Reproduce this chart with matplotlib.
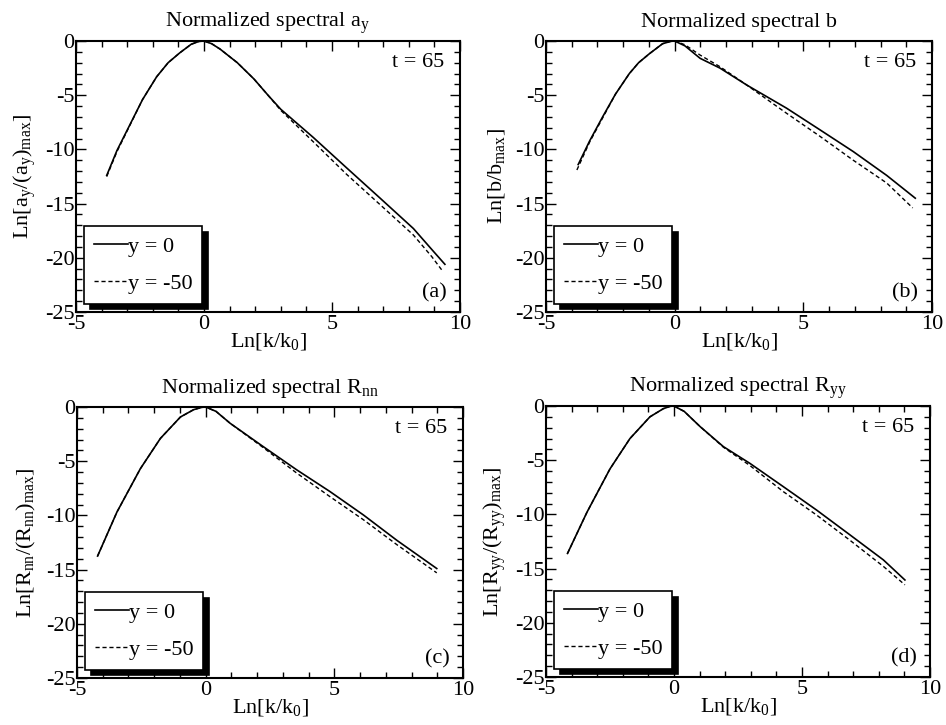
import matplotlib
matplotlib.use("Agg")
import matplotlib.pyplot as plt
from matplotlib.ticker import MultipleLocator

plt.rcParams['font.family'] = ['Liberation Serif', 'DejaVu Serif']
plt.rcParams['mathtext.fontset'] = 'stix'
plt.rcParams['axes.unicode_minus'] = False

# (a) a_y
ka_0 = [-3.8, -3.4, -2.9, -2.4, -1.85, -1.4, -0.95, -0.5, -0.2, 0, 0.3, 0.63, 1.3, 1.95, 2.5, 3.0, 4.27, 5.57, 6.88, 8.18, 8.96, 9.41]
a_0 = [-12.4, -10.1, -7.75, -5.4, -3.3, -2.0, -1.1, -0.3, -0.04, 0, -0.25, -0.75, -2.0, -3.5, -5.0, -6.3, -8.9, -11.7, -14.5, -17.3, -19.4, -20.6]
ka_50 = [-3.8, -3.4, -2.9, -2.4, -1.85, -1.4, -0.95, -0.5, -0.2, 0, 0.3, 0.63, 1.3, 1.95, 2.5, 3.0, 4.27, 5.57, 6.88, 8.18, 8.9, 9.28]
a_50 = [-12.5, -10.2, -7.8, -5.4, -3.3, -2.0, -1.1, -0.3, -0.04, 0, -0.25, -0.75, -2.0, -3.5, -5.0, -6.4, -9.3, -12.3, -15.1, -17.9, -19.9, -21.1]

# (b) b
kb_0 = [-3.75, -3.3, -2.8, -2.3, -1.76, -1.4, -0.98, -0.47, -0.15, 0, 0.4, 0.99, 1.76, 2.8, 4.35, 5.65, 6.94, 8.24, 9.35]
b_0 = [-11.4, -9.2, -7.0, -4.9, -3.0, -2.0, -1.17, -0.25, -0.03, 0, -0.45, -1.6, -2.5, -4.06, -6.2, -8.2, -10.2, -12.4, -14.5]
kb_50 = [-3.8, -3.3, -2.8, -2.3, -1.76, -1.4, -0.98, -0.47, -0.15, 0, 0.4, 0.99, 1.76, 2.8, 4.35, 5.65, 6.94, 8.24, 9.25]
b_50 = [-11.9, -9.3, -7.1, -4.9, -3.0, -2.0, -1.17, -0.25, -0.03, 0, -0.35, -1.3, -2.37, -4.06, -6.67, -8.8, -11.0, -13.1, -15.4]

# (c) R_nn
kc_0 = [-4.2, -3.45, -2.54, -1.76, -0.98, -0.47, -0.15, 0, 0.4, 0.95, 2.24, 3.54, 4.83, 6.13, 7.43, 8.98]
c_0 = [-13.75, -9.7, -5.7, -2.9, -0.92, -0.25, -0.03, 0, -0.4, -1.5, -3.66, -5.8, -7.8, -9.96, -12.3, -14.9]
kc_50 = [-4.2, -3.45, -2.54, -1.76, -0.98, -0.47, -0.15, 0, 0.4, 0.95, 2.24, 3.54, 4.83, 6.13, 7.43, 8.98]
c_50 = [-13.75, -9.7, -5.7, -2.9, -0.92, -0.25, -0.03, 0, -0.4, -1.5, -3.75, -6.1, -8.27, -10.4, -12.7, -15.3]

# (d) R_yy
kd_0 = [-4.16, -3.4, -2.5, -1.72, -0.94, -0.42, -0.15, 0, 0.4, 1.02, 1.93, 2.97, 4.27, 5.57, 6.88, 8.18, 9.02]
d_0 = [-13.6, -9.8, -5.8, -3.0, -1.0, -0.25, -0.03, 0, -0.5, -1.9, -3.75, -5.3, -7.44, -9.6, -11.9, -14.2, -16.05]
kd_50 = [-4.16, -3.4, -2.5, -1.72, -0.94, -0.42, -0.15, 0, 0.4, 1.02, 1.93, 2.97, 4.27, 5.57, 6.88, 8.18, 9.02]
d_50 = [-13.6, -9.8, -5.8, -3.0, -1.0, -0.25, -0.03, 0, -0.5, -1.9, -3.8, -5.5, -7.9, -10.06, -12.4, -14.8, -16.5]

titles = [r"Normalized spectral $\mathregular{a_y}$", "Normalized spectral b",
          r"Normalized spectral $\mathregular{R_{nn}}$", r"Normalized spectral $\mathregular{R_{yy}}$"]
ylabels = [r"$\mathregular{Ln[a_y/(a_y)_{max}]}$", r"$\mathregular{Ln[b/b_{max}]}$",
           r"$\mathregular{Ln[R_{nn}/(R_{nn})_{max}]}$", r"$\mathregular{Ln[R_{yy}/(R_{yy})_{max}]}$"]
tags = ["(a)", "(b)", "(c)", "(d)"]
series = [(ka_0, a_0, ka_50, a_50), (kb_0, b_0, kb_50, b_50),
          (kc_0, c_0, kc_50, c_50), (kd_0, d_0, kd_50, d_50)]

W, H = 946, 725
fig = plt.figure(figsize=(W / 100, H / 100), dpi=100)
# axes boxes in pixels: left, top, right, bottom
boxes = [(76, 41, 460, 312), (546, 41, 932, 312), (77, 407, 463, 678), (546, 406, 930, 677)]

for i in range(4):
    l, t, r, b = boxes[i]
    ax = fig.add_axes([l / W, 1 - b / H, (r - l) / W, (b - t) / H])
    k0, v0, k50, v50 = series[i]
    ax.plot(k0, v0, color='black', lw=1.2, label='y = 0')
    ax.plot(k50, v50, color='black', lw=1.0, ls=(0, (3, 2)), label='y = -50')
    ax.set_xlim(-5, 10)
    ax.set_ylim(-25, 0)
    ax.xaxis.set_major_locator(MultipleLocator(5))
    ax.xaxis.set_minor_locator(MultipleLocator(1))
    ax.yaxis.set_major_locator(MultipleLocator(5))
    ax.yaxis.set_minor_locator(MultipleLocator(1))
    ax.tick_params(which='both', direction='in', top=True, right=True, labelsize=16, width=1)
    ax.tick_params(which='major', length=7, pad=2)
    ax.tick_params(which='minor', length=4)
    ax.tick_params(axis='y', pad=1)
    for s in ax.spines.values():
        s.set_linewidth(1.5)
    ax.set_title(titles[i], fontsize=16, pad=10)
    ax.set_ylabel(ylabels[i], fontsize=16)
    ax.yaxis.set_label_coords(-0.1, 0.5)
    ax.set_xlabel(r"$\mathregular{Ln[k/k_0]}$", fontsize=16)
    ax.xaxis.set_label_coords(0.5, -0.07)
    ax.text(0.96, 0.92, "t = 65", transform=ax.transAxes, ha='right', va='center', fontsize=16)
    ax.text(0.965, 0.07, tags[i], transform=ax.transAxes, ha='right', va='center', fontsize=16)
    leg = ax.legend(loc='lower left', bbox_to_anchor=(0.022, 0.03), fontsize=16, frameon=True,
                    fancybox=False, shadow={'color': 'black', 'alpha': 1, 'ox': 4, 'oy': -4},
                    handlelength=1.5, handletextpad=0.0, labelspacing=0.75,
                    borderpad=0.45, borderaxespad=0)
    leg.get_frame().set_edgecolor('black')
    leg.get_frame().set_linewidth(1.2)

fig.savefig("out.png", dpi=100)
